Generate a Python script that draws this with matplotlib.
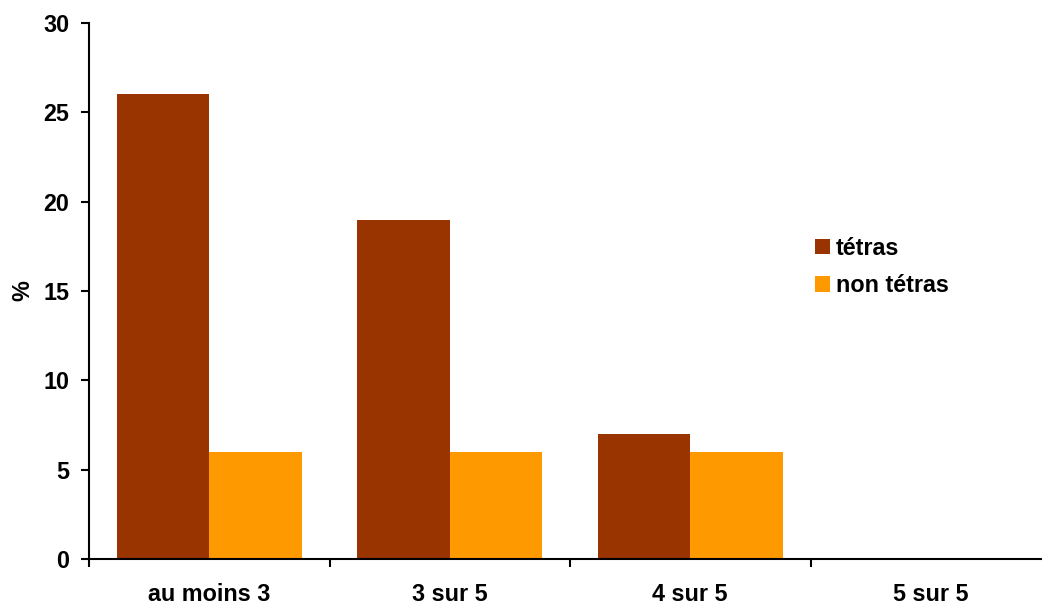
import matplotlib
matplotlib.use("Agg")
from matplotlib import pyplot as plt
import numpy as np

categories = ["au moins 3", "3 sur 5", "4 sur 5", "5 sur 5"]
tetras = [26, 19, 7, 0]
non_tetras = [6, 6, 6, 0]
series_names = ["tétras", "non tétras"]
colors = ["#993300", "#FF9900"]

plt.rcParams['font.family'] = ['Liberation Sans', 'DejaVu Sans']
plt.rcParams['font.weight'] = 'bold'
fs = 16.8

fig = plt.figure(figsize=(10.42, 6.08), dpi=100)
ax = fig.add_axes([89 / 1042, 1 - 559 / 608, 962 / 1042, 536 / 608])

x = np.arange(len(categories))
w = 0.385
ax.bar(x - w / 2, tetras, width=w, color=colors[0], label=series_names[0])
ax.bar(x + w / 2, non_tetras, width=w, color=colors[1], label=series_names[1])

ax.set_xlim(-0.5, len(categories) - 0.5)
ax.set_ylim(0, 30)
ax.set_yticks(range(0, 31, 5))
ax.set_yticklabels([str(v) for v in range(0, 31, 5)], fontsize=fs, fontweight='bold')
ax.set_xticks(x)
ax.set_xticklabels(categories, fontsize=fs, fontweight='bold')
ax.set_xticks(np.arange(len(categories) + 1) - 0.5, minor=True)
ax.tick_params(axis='x', which='major', length=0, pad=17)
ax.tick_params(axis='x', which='minor', length=6, width=1.5, direction='out')
ax.tick_params(axis='y', length=6, width=1.5, direction='out', pad=8)
ax.set_ylabel("%", fontsize=fs, fontweight='bold')
ax.yaxis.set_label_coords(-0.057, 0.5)

for s in ['top', 'right']:
    ax.spines[s].set_visible(False)
for s in ['left', 'bottom']:
    ax.spines[s].set_linewidth(1.5)

ax.legend(loc='center left', bbox_to_anchor=(815 / 1042, 1 - 267 / 608),
          bbox_transform=fig.transFigure, frameon=False,
          handlelength=0.65, handleheight=0.65, handletextpad=0.25,
          labelspacing=0.62, borderpad=0, borderaxespad=0,
          prop={'weight': 'bold', 'size': fs})

fig.savefig("out.png", dpi=100)
